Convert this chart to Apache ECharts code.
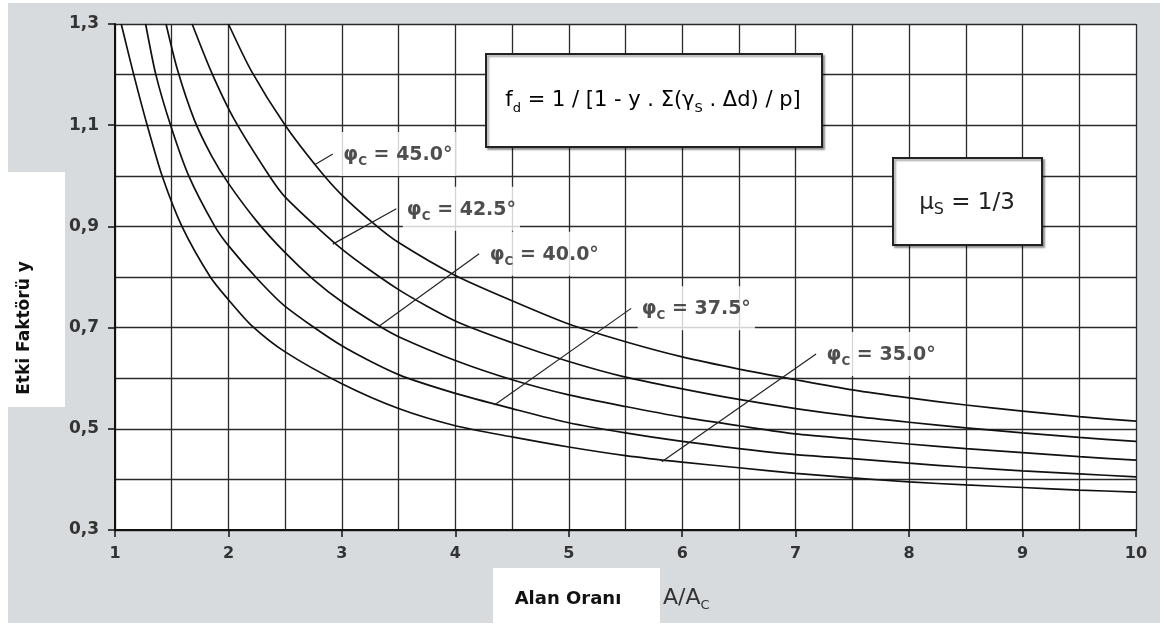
<!DOCTYPE html>
<html>
<head>
<meta charset="utf-8">
<script src="https://cdn.jsdelivr.net/npm/echarts@6/dist/echarts.min.js"></script>
<style>html,body{margin:0;padding:0;background:#fff}#c{width:1166px;height:626px}</style>
</head>
<body>
<div id="c"></div>
<script>
// ---- data: [A/Ac, y] ----
const phi45 = [[2.00,1.300],[2.20,1.208],[2.50,1.100],[2.80,1.012],[3.00,0.962],[3.30,0.902],[3.50,0.868],[4.00,0.803],[4.50,0.753],[5.00,0.707],[5.50,0.672],[6.00,0.642],[6.50,0.618],[7.00,0.597],[7.50,0.577],[8.00,0.561],[8.50,0.547],[9.00,0.535],[9.50,0.524],[10.0,0.515]];
const phi425 = [[1.68,1.300],[1.85,1.205],[2.05,1.112],[2.36,1.000],[2.50,0.958],[3.00,0.855],[3.50,0.775],[4.00,0.713],[4.50,0.670],[5.00,0.633],[5.50,0.602],[6.00,0.579],[6.50,0.558],[7.00,0.540],[7.50,0.525],[8.00,0.513],[8.50,0.502],[9.00,0.492],[9.50,0.483],[10.0,0.475]];
const phi40 = [[1.45,1.300],[1.55,1.210],[1.70,1.110],[1.85,1.040],[2.00,0.985],[2.25,0.910],[2.50,0.848],[2.75,0.795],[3.00,0.751],[3.33,0.703],[3.50,0.682],[4.00,0.635],[4.50,0.597],[5.00,0.567],[5.50,0.544],[6.00,0.523],[6.50,0.506],[7.00,0.490],[7.50,0.480],[8.00,0.470],[8.50,0.461],[9.00,0.453],[9.50,0.445],[10.0,0.438]];
const phi375 = [[1.27,1.300],[1.36,1.200],[1.49,1.100],[1.65,1.000],[1.88,0.900],[2.00,0.862],[2.26,0.795],[2.50,0.742],[3.00,0.664],[3.50,0.607],[4.00,0.570],[4.50,0.540],[5.00,0.512],[5.50,0.492],[6.00,0.475],[6.50,0.461],[7.00,0.449],[7.50,0.441],[8.00,0.432],[8.50,0.424],[9.00,0.417],[9.50,0.411],[10.0,0.405]];
const phi35 = [[1.055,1.300],[1.165,1.200],[1.29,1.095],[1.415,1.000],[1.59,0.900],[1.84,0.800],[2.00,0.755],[2.20,0.705],[2.50,0.652],[3.00,0.589],[3.50,0.540],[4.00,0.506],[4.50,0.484],[5.00,0.464],[5.50,0.447],[6.00,0.434],[6.50,0.423],[7.00,0.412],[7.50,0.403],[8.00,0.395],[8.50,0.389],[9.00,0.384],[9.50,0.379],[10.0,0.375]];
const curves = [phi45, phi425, phi40, phi375, phi35];
const curveLabels = ['45.0', '42.5', '40.0', '37.5', '35.0'];
// leader lines: [curve end, label end]
const leaders = [
  [[2.76,1.022],[2.92,1.043]],
  [[2.92,0.865],[3.48,0.935]],
  [[3.33,0.703],[4.21,0.846]],
  [[4.345,0.547],[5.55,0.738]],
  [[5.82,0.435],[7.18,0.648]]
];
const xMin = 1, xMax = 10, xStep = 1;
const yMin = 0.3, yMax = 1.3, yStep = 0.2;

const gridLine = {color: '#2a2a2a', width: 1.3};
const FONT = 'DejaVu Sans';

const series = [];
curves.forEach((d, i) => {
  series.push({
    type: 'line', data: d, smooth: 0.25, showSymbol: false, symbol: 'none',
    lineStyle: {color: '#111', width: 1.7}, z: 3, clip: true, silent: true
  });
});
leaders.forEach((d, i) => {
  series.push({
    type: 'line', data: d, symbol: 'none', lineStyle: {color: '#222', width: 1.2}, z: 3, silent: true
  });
  series.push({
    type: 'scatter', data: [d[1]], symbolSize: 1, itemStyle: {color: 'rgba(0,0,0,0)'}, z: 5, silent: true,
    label: {
      show: true, position: 'right', distance: 6,
      formatter: '{p|φ}{s|C}{t| = ' + curveLabels[i] + '°}',
      backgroundColor: '#fff', padding: [10, 4, 8, 4],
      rich: {
        p: {fontFamily: FONT, fontWeight: 'bold', fontSize: 19, color: '#222', lineHeight: 26},
        s: {fontFamily: FONT, fontWeight: 'bold', fontSize: 12, color: '#222', lineHeight: 8, verticalAlign: 'bottom'},
        t: {fontFamily: FONT, fontWeight: 'bold', fontSize: 19, color: '#222', lineHeight: 26}
      }
    }
  });
});

const chart = echarts.init(document.getElementById('c'), null, {renderer: 'canvas'});
chart.setOption({
  animation: false,
  backgroundColor: '#fff',
  grid: {left: 115, right: 30, top: 24, bottom: 96, show: true, backgroundColor: '#fff', borderWidth: 0},
  xAxis: {
    type: 'value', min: xMin, max: xMax, interval: xStep,
    axisLine: {show: true, lineStyle: {color: '#111', width: 2}},
    axisTick: {show: true, length: 7, lineStyle: {color: '#111', width: 1.5}},
    axisLabel: {margin: 16, fontFamily: FONT, fontWeight: 'bold', fontSize: 16, color: '#333'},
    splitLine: {show: true, lineStyle: gridLine},
    minorTick: {show: false, splitNumber: 2},
    minorSplitLine: {show: true, lineStyle: gridLine}
  },
  yAxis: {
    type: 'value', min: yMin, max: yMax, interval: yStep,
    axisLine: {show: true, lineStyle: {color: '#111', width: 2}},
    axisTick: {show: true, length: 7, lineStyle: {color: '#111', width: 1.5}},
    axisLabel: {margin: 16, fontFamily: FONT, fontWeight: 'bold', fontSize: 17, color: '#333',
      formatter: v => v.toFixed(1).replace('.', ',')},
    splitLine: {show: true, lineStyle: gridLine},
    minorTick: {show: false, splitNumber: 2},
    minorSplitLine: {show: true, lineStyle: gridLine}
  },
  graphic: [
    {type: 'rect', z: -10, shape: {x: 8, y: 3, width: 1152, height: 620}, style: {fill: '#d8dbde'}, silent: true},
    {type: 'rect', z: -5, shape: {x: 8, y: 172, width: 57, height: 235}, style: {fill: '#fff'}, silent: true},
    {type: 'rect', z: -5, shape: {x: 493, y: 568, width: 167, height: 58}, style: {fill: '#fff'}, silent: true},
    {type: 'text', z: 10, x: 25, y: 328, rotation: Math.PI / 2,
      style: {text: 'Etki Faktörü y', font: 'bold 17px "DejaVu Sans"', fill: '#111', align: 'center', verticalAlign: 'middle'}},
    {type: 'text', z: 10, x: 568, y: 599,
      style: {text: 'Alan Oranı', font: 'bold 18px "DejaVu Sans"', fill: '#111', align: 'center', verticalAlign: 'middle'}},
    {type: 'text', z: 10, x: 663, y: 598,
      style: {text: '{a|A/A}{s|C}', align: 'left', verticalAlign: 'middle',
        rich: {a: {font: '22px "DejaVu Sans"', fill: '#333', lineHeight: 28},
               s: {font: '13px "DejaVu Sans"', fill: '#333', lineHeight: 10, verticalAlign: 'bottom'}}}},
    {type: 'rect', z: 10, shape: {x: 486, y: 54, width: 336, height: 93},
      style: {fill: '#fff', stroke: '#222', lineWidth: 2, shadowColor: 'rgba(0,0,0,0.35)', shadowOffsetX: 2, shadowOffsetY: 2, shadowBlur: 2}},
    {type: 'text', z: 11, x: 653, y: 101,
      style: {text: '{a|f}{s|d}{a| = 1 / [1 - y . Σ(γ}{s|S}{a| . Δd) / p]}', align: 'center', verticalAlign: 'middle',
        rich: {a: {font: '21px "DejaVu Sans"', fill: '#000', lineHeight: 28},
               s: {font: '13px "DejaVu Sans"', fill: '#000', lineHeight: 10, verticalAlign: 'bottom'}}}},
    {type: 'rect', z: 10, shape: {x: 893, y: 158, width: 149, height: 87},
      style: {fill: '#fff', stroke: '#222', lineWidth: 2, shadowColor: 'rgba(0,0,0,0.35)', shadowOffsetX: 2, shadowOffsetY: 2, shadowBlur: 2}},
    {type: 'text', z: 11, x: 967, y: 203,
      style: {text: '{a|μ}{s|S}{a| = 1/3}', align: 'center', verticalAlign: 'middle',
        rich: {a: {font: '23px "DejaVu Sans"', fill: '#222', lineHeight: 30},
               s: {font: '16px "DejaVu Sans"', fill: '#222', lineHeight: 12, verticalAlign: 'bottom'}}}}
  ],
  series: series
});
</script>
</body>
</html>
